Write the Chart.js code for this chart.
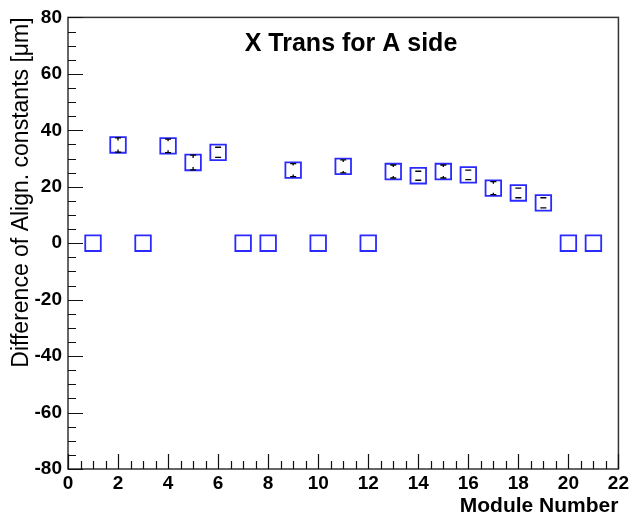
<!DOCTYPE html>
<html>
<head>
<meta charset="utf-8">
<script src="https://cdn.jsdelivr.net/npm/chart.js@4"></script>
<style>
  html, body { margin:0; padding:0; background:#fff; }
  #wrap { width:632px; height:517px; }
</style>
</head>
<body>
<div id="wrap"><canvas id="xTrans"></canvas></div>
<script>
/* ── X Trans for A side : per-module alignment differences ── */
const modules   = [1, 2, 3, 4, 5, 6, 7, 8, 9, 10, 11, 12, 13, 14, 15, 16, 17, 18, 19, 20, 21];
const diffVals  = [0, 34.8, 0, 34.5, 28.6, 32.2, 0, 0, 25.9, 0, 27.2, 0, 25.4, 23.9, 25.4, 24.2, 19.5, 17.8, 14.3, 0, 0];
const diffErrs  = [0, 2.5, 0, 2.4, 2.6, 1.8, 0, 0, 2.3, 0, 2.3, 0, 2.3, 1.6, 2.3, 1.7, 2.3, 1.7, 1.8, 0, 0];
const xTicks    = [0, 2, 4, 6, 8, 10, 12, 14, 16, 18, 20, 22];
const yTicks    = [-80, -60, -40, -20, 0, 20, 40, 60, 80];

const FONT = '"Liberation Sans", Arial, Helvetica, sans-serif';
const INK  = '#000';

/* frame + inward ticks, ROOT style */
const frameTicks = {
  id: 'frameTicks',
  afterDraw(chart) {
    const { ctx, chartArea: a, scales: { x, y } } = chart;
    ctx.save();
    ctx.strokeStyle = '#333';
    ctx.lineWidth = 1.5;
    ctx.strokeRect(a.left, a.top, a.right - a.left, a.bottom - a.top);

    ctx.strokeStyle = '#111';
    ctx.lineWidth = 1.2;
    ctx.beginPath();
    // y axis: major every 20, minor every 5
    for (let v = -80; v <= 80; v += 5) {
      const py = Math.round(y.getPixelForValue(v)) + 0.5;
      const len = (v % 20 === 0) ? 15 : 8;
      ctx.moveTo(a.left, py); ctx.lineTo(a.left + len, py);
    }
    // x axis: major every 2, minor every 0.5
    for (let v = 0; v <= 22; v += 0.5) {
      const px = Math.round(x.getPixelForValue(v)) + 0.5;
      const len = (v % 2 === 0) ? 15 : 8;
      ctx.moveTo(px, a.bottom); ctx.lineTo(px, a.bottom - len);
    }
    ctx.stroke();
    ctx.restore();
  }
};

/* small error bars drawn inside the markers */
const errBars = {
  id: 'errBars',
  afterDatasetsDraw(chart) {
    const { ctx, scales: { x, y } } = chart;
    ctx.save();
    ctx.strokeStyle = '#000';
    ctx.lineWidth = 1.3;
    modules.forEach((m, i) => {
      const e = diffErrs[i];
      if (!e) return;
      const px = x.getPixelForValue(m);
      const yc = y.getPixelForValue(diffVals[i]);
      const yt = y.getPixelForValue(diffVals[i] + e);
      const yb = y.getPixelForValue(diffVals[i] - e);
      const stub = Math.max(0, (yc - yt) - 4.5);
      ctx.beginPath();
      ctx.moveTo(px - 3, yt); ctx.lineTo(px + 3, yt);
      ctx.moveTo(px - 3, yb); ctx.lineTo(px + 3, yb);
      if (stub > 0) {
        ctx.moveTo(px, yt); ctx.lineTo(px, yt + stub);
        ctx.moveTo(px, yb); ctx.lineTo(px, yb - stub);
      }
      ctx.stroke();
    });
    ctx.restore();
  }
};

/* plot title */
const plotTitle = {
  id: 'plotTitle',
  afterDraw(chart) {
    const { ctx } = chart;
    ctx.save();
    ctx.fillStyle = INK;
    ctx.font = 'bold 25px ' + FONT;
    ctx.textAlign = 'center';
    ctx.textBaseline = 'middle';
    ctx.fillText('X Trans for A side', 351, 44);
    ctx.restore();
  }
};

new Chart(document.getElementById('xTrans'), {
  type: 'scatter',
  data: {
    datasets: [{
      data: modules.map((m, i) => ({ x: m, y: diffVals[i] })),
      pointStyle: 'rect',
      pointRadius: 11,
      pointHoverRadius: 11,
      pointBorderWidth: 1.8,
      borderColor: '#2a2aff',
      backgroundColor: 'rgba(0,0,0,0)'
    }]
  },
  options: {
    responsive: true,
    maintainAspectRatio: false,
    animation: false,
    events: [],
    layout: { padding: { top: 15, right: 13, left: 0, bottom: 0 } },
    plugins: { legend: { display: false }, tooltip: { enabled: false } },
    scales: {
      x: {
        type: 'linear',
        min: 0, max: 22,
        afterBuildTicks: s => { s.ticks = xTicks.map(v => ({ value: v })); },
        afterFit: s => { s.height = 48; },
        grid: { display: false, drawTicks: false },
        border: { display: false },
        ticks: {
          color: INK, padding: 3, maxRotation: 0, autoSkip: false,
          font: { family: FONT, size: 19, weight: 'bold' }
        },
        title: {
          display: true, text: 'Module Number', align: 'end', color: INK,
          padding: { top: 0, bottom: -2 },
          font: { family: FONT, size: 21, weight: 'bold' }
        }
      },
      y: {
        type: 'linear',
        min: -80, max: 80,
        afterBuildTicks: s => { s.ticks = yTicks.map(v => ({ value: v })); },
        afterFit: s => { s.width = 68; },
        grid: { display: false, drawTicks: false },
        border: { display: false },
        ticks: {
          color: INK, padding: 6, autoSkip: false,
          font: { family: FONT, size: 19, weight: 'bold' }
        },
        title: {
          display: true, text: 'Difference of Align. constants [\u03bcm]', align: 'end', color: INK,
          padding: { top: 8, bottom: 0 },
          font: { family: FONT, size: 23 }
        }
      }
    }
  },
  plugins: [frameTicks, errBars, plotTitle]
});
</script>
</body>
</html>
